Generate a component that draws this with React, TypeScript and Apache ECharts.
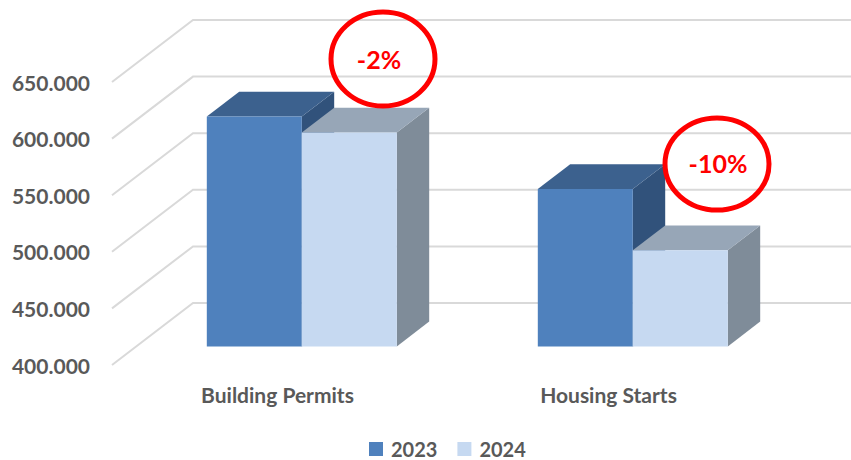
import React, { useEffect, useRef } from "react";
import * as echarts from "echarts";

const categories = ["Building Permits", "Housing Starts"];
const seriesNames = ["2023", "2024"];
const values2023 = [603000, 539000];
const values2024 = [589000, 485000];
const yTicks = [400000, 450000, 500000, 550000, 600000, 650000];

const Y_MIN = 400000;
const Y_MAX = 650000;
const Y_STEP = 50000;

// oblique depth projection
const DX = 81;
const DY = -62;
const FRONT = 0.3;
const DEPTH = 0.4;
const BAR_FRAC = 0.287;

const FONT = "Lato, 'Open Sans', sans-serif";

const fmt = (v: number) => String(v).replace(/\B(?=(\d{3})+(?!\d))/g, ".");

const pct = (a: number, b: number) => Math.round((b / a - 1) * 100) + "%";

function makeBarRenderer(slot: number, colors: { front: string; top: string; side: string }) {
  return (params: any, api: any) => {
    const cat = api.value(0);
    const val = api.value(1);
    const base = api.coord([cat, Y_MIN]);
    const top = api.coord([cat, val]);
    const band = api.size([1, 0])[0];
    const bw = band * BAR_FRAC;
    const fx = DX * FRONT;
    const fy = DY * FRONT;
    const ddx = DX * DEPTH;
    const ddy = DY * DEPTH;
    const x0 = base[0] + (slot - 1) * bw + fx;
    const x1 = x0 + bw;
    const ty = top[1] + fy;
    const by = base[1] + fy;
    return {
      type: "group",
      children: [
        {
          type: "polygon",
          shape: { points: [[x1, ty], [x1, by], [x1 + ddx, by + ddy], [x1 + ddx, ty + ddy]] },
          style: { fill: colors.side },
        },
        {
          type: "polygon",
          shape: { points: [[x0, ty], [x1, ty], [x1 + ddx, ty + ddy], [x0 + ddx, ty + ddy]] },
          style: { fill: colors.top },
        },
        {
          type: "rect",
          shape: { x: x0, y: ty, width: bw, height: by - ty },
          style: { fill: colors.front },
        },
      ],
    };
  };
}

export default function App() {
  const ref = useRef<HTMLDivElement>(null);
  useEffect(() => {
    if (!ref.current) return;
    const chart = echarts.init(ref.current, null, { renderer: "svg" });
    const gridData = yTicks.map((v) => [0, v]);
    const option: any = {
      animation: false,
      backgroundColor: "#ffffff",
      grid: { left: 112, right: 77, top: 82, bottom: 95 },
      legend: {
        data: seriesNames.map((n) => ({ name: n, icon: "rect" })),
        left: 364,
        top: 434,
        itemWidth: 14,
        itemHeight: 14,
        itemGap: 20,
        textStyle: { fontFamily: FONT, fontSize: 20, fontWeight: "bold", color: "#595959", padding: [0, 0, 0, 3] },
      },
      xAxis: {
        type: "category",
        data: categories,
        axisLine: { show: false },
        axisTick: { show: false },
        splitLine: { show: false },
        axisLabel: { fontFamily: FONT, fontSize: 21, fontWeight: "bold", color: "#595959", margin: 19 },
      },
      yAxis: {
        type: "value",
        min: Y_MIN,
        max: Y_MAX,
        interval: Y_STEP,
        axisLine: { show: false },
        axisTick: { show: false },
        splitLine: { show: false },
        axisLabel: {
          fontFamily: FONT,
          fontSize: 21,
          fontWeight: "bold",
          color: "#595959",
          margin: 22,
          formatter: (v: number) => fmt(v),
        },
      },
      series: [
        {
          name: "grid3d",
          type: "custom",
          silent: true,
          z: 1,
          data: gridData,
          renderItem: (params: any, api: any) => {
            const cs = params.coordSys;
            const y = api.coord([0, api.value(1)])[1];
            return {
              type: "polyline",
              shape: { points: [[cs.x, y], [cs.x + DX, y + DY], [cs.x + cs.width + DX, y + DY]] },
              style: { stroke: "#D9D9D9", lineWidth: 2, fill: null },
            };
          },
        },
        {
          name: "2023",
          type: "custom",
          z: 2,
          itemStyle: { color: "#4F81BD" },
          data: values2023.map((v, i) => [i, v]),
          renderItem: makeBarRenderer(0, { front: "#4F81BD", top: "#3C618E", side: "#31527B" }),
        },
        {
          name: "2024",
          type: "custom",
          z: 3,
          itemStyle: { color: "#C6D9F1" },
          data: values2024.map((v, i) => [i, v]),
          renderItem: makeBarRenderer(1, { front: "#C6D9F1", top: "#97A6B7", side: "#7F8C99" }),
        },
      ],
      graphic: [
        {
          type: "ellipse",
          z: 10,
          shape: { cx: 383, cy: 59, rx: 52, ry: 47 },
          style: { fill: null, stroke: "#FF0000", lineWidth: 5 },
        },
        {
          type: "text",
          z: 11,
          x: 379,
          y: 59,
          style: {
            text: pct(values2023[0], values2024[0]),
            fill: "#FF0000",
            font: `bold 25px ${FONT}`,
            align: "center",
            verticalAlign: "middle",
          },
        },
        {
          type: "ellipse",
          z: 10,
          shape: { cx: 717, cy: 164, rx: 52, ry: 46 },
          style: { fill: null, stroke: "#FF0000", lineWidth: 5 },
        },
        {
          type: "text",
          z: 11,
          x: 718,
          y: 163,
          style: {
            text: pct(values2023[1], values2024[1]),
            fill: "#FF0000",
            font: `bold 25px ${FONT}`,
            align: "center",
            verticalAlign: "middle",
          },
        },
      ],
    };
    chart.setOption(option);
    return () => chart.dispose();
  }, []);
  return (
    <div
      ref={ref}
      style={{ position: "absolute", left: 0, top: 0, width: 851, height: 460 }}
    />
  );
}
